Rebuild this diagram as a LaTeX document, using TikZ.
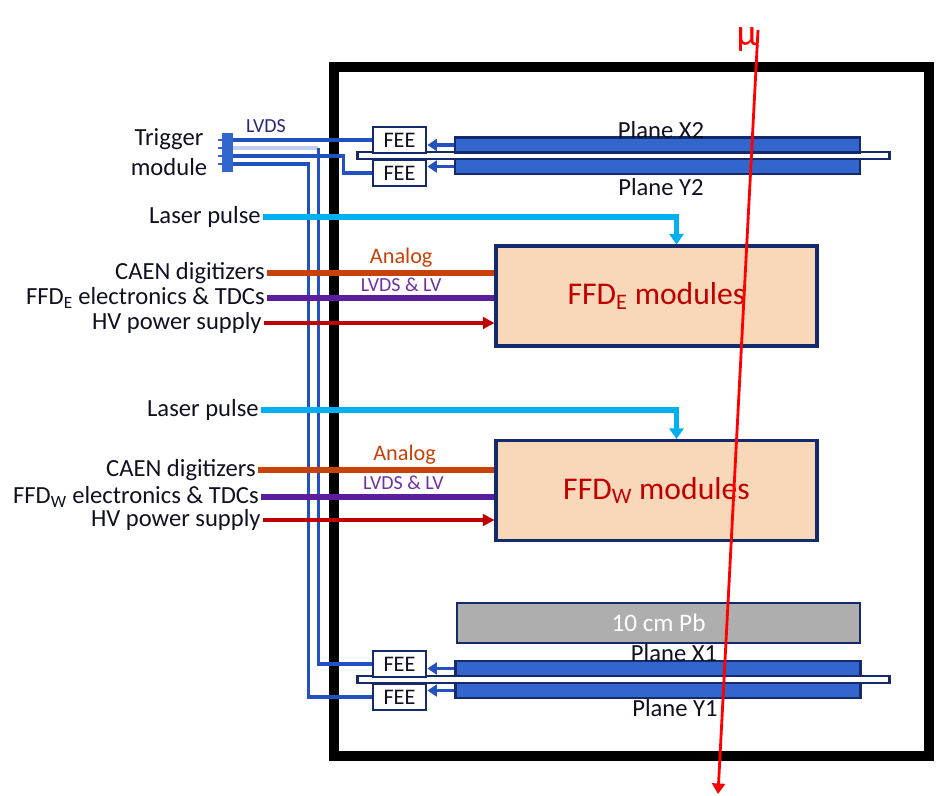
\documentclass[tikz,border=0pt]{standalone}
\usepackage{fontspec}
\setmainfont{Carlito}
\usetikzlibrary{arrows.meta,positioning,calc}
\definecolor{cNavy}{HTML}{142A6B}
\definecolor{cPlane}{HTML}{3366CC}
\definecolor{cWire}{HTML}{2351C2}
\definecolor{cCyan}{HTML}{00B0F0}
\definecolor{cOrange}{HTML}{C8410A}
\definecolor{cPurple}{HTML}{5C1E9C}
\definecolor{cLabPurple}{HTML}{7030A0}
\definecolor{cRed}{HTML}{C00000}
\definecolor{cMuon}{HTML}{FF0000}
\definecolor{cPeach}{HTML}{F8D8B8}
\definecolor{cLead}{HTML}{AEAEAE}
\definecolor{cInk}{HTML}{101020}
\tikzset{
  txt/.style={font=\fontsize{21pt}{26pt}\selectfont,text=cInk,inner sep=0pt,outer sep=2pt},
  feebox/.style={draw=cNavy,fill=white,line width=2.4pt,minimum width=1.59cm,minimum height=0.78cm,inner sep=0pt,font=\fontsize{19pt}{21pt}\selectfont,text=cInk},
  plane/.style={draw=cNavy,fill=cPlane,line width=2.4pt,minimum width=12.15cm,minimum height=0.45cm,inner sep=0pt},
  sepbar/.style={draw=cNavy,fill=white,line width=2pt,minimum width=15.96cm,minimum height=0.21cm,inner sep=0pt},
  ffdbox/.style={draw=cNavy,fill=cPeach,line width=2.6pt,minimum width=9.63cm,minimum height=3cm,font=\fontsize{27pt}{30pt}\selectfont,text=cRed},
  leadbox/.style={draw=cNavy,fill=cLead,line width=2.4pt,minimum width=12.09cm,minimum height=1.2cm,font=\fontsize{21.5pt}{24pt}\selectfont,text=white},
  plug/.style={fill=cPlane,draw=none,minimum width=0.33cm,minimum height=1.17cm,inner sep=0pt},
  frame/.style={draw=black,line width=8.5pt},
  wire/.style={draw=cWire,line width=2.6pt},
  arr/.style={-{Triangle[length=8pt,width=10pt]},draw=cWire,line width=2.6pt},
  laser/.style={-{Triangle[length=9pt,width=12pt]},draw=cCyan,line width=4.3pt},
  caen/.style={draw=cOrange,line width=5pt},
  elec/.style={draw=cPurple,line width=5pt},
  hv/.style={-{Triangle[length=10pt,width=10pt]},draw=cRed,line width=2.6pt},
  muon/.style={-{Triangle[length=9pt,width=11pt]},draw=cMuon,line width=2.4pt},
  sig/.style={font=\fontsize{19pt}{21pt}\selectfont,text=cOrange,inner sep=0pt},
  sigb/.style={font=\fontsize{17pt}{19pt}\selectfont,text=cLabPurple,inner sep=0pt},
}
\begin{document}
\begin{tikzpicture}[x=0.03cm,y=-0.03cm]
\useasboundingbox (0,0) rectangle (937,796);
% detector box
\draw[frame] (334,67) rectangle (929,756);

% upper tracking planes
\node[sepbar] (sep2) at (623.5,155.5) {};
\node[plane] (planeX2) at (657.5,145) {};
\node[plane] (planeY2) at (657.5,166.5) {};
\node[feebox] (feeX2) at (399.5,140) {FEE};
\node[feebox] (feeY2) at (399.5,173) {FEE};
\node[txt] (labX2) at (661,130) {Plane X2};
\node[txt] (labY2) at (661,187) {Plane Y2};
\draw[arr] (planeX2.west) -- (planeX2.west -| feeX2.east);
\draw[arr] (planeY2.west) -- (planeY2.west -| feeY2.east);

% lead and lower tracking planes
\node[leadbox] (pb) at (658.5,623) {10 cm Pb};
\node[sepbar] (sep1) at (623.5,679.5) {};
\node[plane] (planeX1) at (658,668.5) {};
\node[plane] (planeY1) at (658,690.5) {};
\node[feebox] (feeX1) at (399.5,664) {FEE};
\node[feebox] (feeY1) at (399.5,697) {FEE};
\node[txt] (labX1) at (674,653) {Plane X1};
\node[txt] (labY1) at (675,708) {Plane Y1};
\draw[arr] (planeX1.west) -- (planeX1.west -| feeX1.east);
\draw[arr] (planeY1.west) -- (planeY1.west -| feeY1.east);

% trigger module
\node[txt,align=center] (trigLbl) at (169,152) {Trigger\\module};
\node[plug] (trig) at (227.5,152.5) {};
\foreach \dy in {-12.5,-4.5,3.5,11.5}
  \draw[cPlane,line width=2.4pt] ($(trig.west)+(0,\dy)$) -- ++(-4,0);
\node[sigb,text=cNavy!70!cPurple] (lvdsLbl) at (266,126) {LVDS};
\draw[wire] (trig.east |- feeX2.west) -- (feeX2.west);
\draw[wire,cWire!28] ($(trig.east)+(0,-4.5)$) -- ++(85,0) coordinate (w2);
\draw[wire] (w2) |- (feeX1.west);
\draw[wire] ($(trig.east)+(0,3.5)$) -- ++(110,0) |- (feeY2.west);
\draw[wire] ($(trig.east)+(0,11.5)$) -- ++(75,0) |- (feeY1.west);

% FFD east
\node[ffdbox] (ffdE) at (656.5,296) {FFD\textsubscript{E} modules};
\node[txt,anchor=east] (laserE) at (263,217) {Laser pulse};
\node[txt,anchor=east] (caenE) at (267,273) {CAEN digitizers};
\node[txt,anchor=east] (elecE) at (267,298) {FFD\textsubscript{E} electronics \& TDCs};
\node[txt,anchor=east] (hvE) at (264,323) {HV power supply};
\draw[laser] (laserE.east) -| ($(ffdE.north)+(20,0)$);
\draw[caen] (caenE.east) -- node[sig,pos=0.59,above=2pt]{Analog} (caenE.east -| ffdE.west);
\draw[elec] (elecE.east) -- node[sigb,pos=0.59,above=3pt]{LVDS \& LV} (elecE.east -| ffdE.west);
\draw[hv] (hvE.east) -- (hvE.east -| ffdE.west);

% FFD west
\node[ffdbox] (ffdW) at (656.5,490.5) {FFD\textsubscript{W} modules};
\node[txt,anchor=east] (laserW) at (261,410) {Laser pulse};
\node[txt,anchor=east] (caenW) at (258,470) {CAEN digitizers};
\node[txt,anchor=east] (elecW) at (261,497) {FFD\textsubscript{W} electronics \& TDCs};
\node[txt,anchor=east] (hvW) at (263,520) {HV power supply};
\draw[laser] (laserW.east) -| ($(ffdW.north)+(20,0)$);
\draw[caen] (caenW.east) -- node[sig,pos=0.62,above=2pt]{Analog} (caenW.east -| ffdW.west);
\draw[elec] (elecW.east) -- node[sigb,pos=0.61,above=4pt]{LVDS \& LV} (elecW.east -| ffdW.west);
\draw[hv] (hvW.east) -- (hvW.east -| ffdW.west);

% muon track
\node[font=\fontsize{32pt}{34pt}\selectfont,text=cMuon,inner sep=0pt] (mu) at (747,40) {μ};
\coordinate (muTop) at (758,30);
\coordinate (muEnd) at (718,794);
\draw[muon] (muTop) -- (muEnd);
\end{tikzpicture}
\end{document}
